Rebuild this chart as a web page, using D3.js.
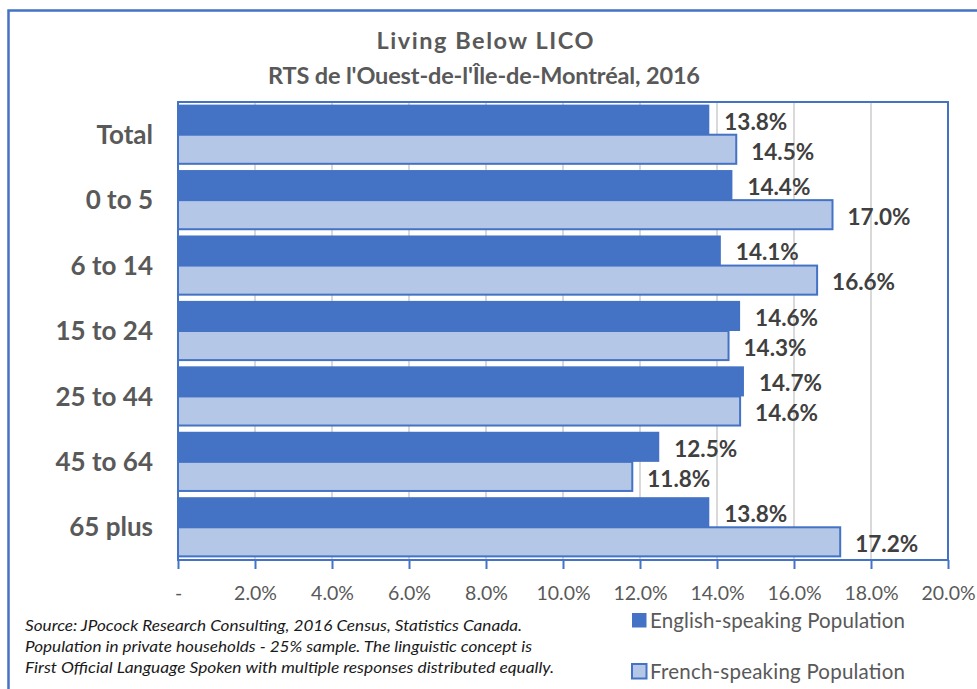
<!DOCTYPE html>
<html lang="en">
<head>
	<meta charset="UTF-8">
	<title>Living Below LICO</title>
	<script src="https://cdn.jsdelivr.net/npm/d3@7"></script>
	<style>
		*{
			margin: 0px;
			box-sizing: border-box;
		}
		html,body{
			width: 977px;
			height: 689px;
			overflow: hidden;
			background: #fff;
		}
		text{
			font-family: Lato, "Open Sans", sans-serif;
		}
		.xAxis path{
			stroke: none;
		}
		.xAxis line{
			stroke: #4472C4;
			stroke-width: 2;
		}
		.xAxis text{
			font-size: 19.5px;
			fill: #595959;
		}
		.grid line{
			stroke: #d9d9d9;
			stroke-width: 2;
		}
	</style>
</head>
<body>
	<svg id="svg"></svg>
	<script>
		var categories = ["Total", "0 to 5", "6 to 14", "15 to 24", "25 to 44", "45 to 64", "65 plus"];
		var english = [13.8, 14.4, 14.1, 14.6, 14.7, 12.5, 13.8];
		var french = [14.5, 17.0, 16.6, 14.3, 14.6, 11.8, 17.2];
		var seriesNames = ["English-speaking Population", "French-speaking Population"];
		var tickValues = [0, 2, 4, 6, 8, 10, 12, 14, 16, 18, 20];
		var sourceLines = [
			"Source: JPocock Research Consulting, 2016 Census, Statistics Canada.",
			"Population in private households - 25% sample. The linguistic concept is",
			"First Official Language Spoken with multiple responses distributed equally."
		];
		var sourceWidths = [497, 507, 529];

		var w = 977, h = 689,
			blue = "#4472C4", light = "#B4C7E7",
			plot = {left: 178, top: 102, right: 948, bottom: 560};

		var svg = d3.select("#svg").attr("width", w).attr("height", h);

		// outer frame (runs off the right and bottom edges)
		svg.append("rect")
			.attr("x", 8.5).attr("y", 10.5)
			.attr("width", 1000).attr("height", 700)
			.attr("fill", "none")
			.attr("stroke", blue)
			.attr("stroke-width", 2.5);

		// title
		svg.append("text")
			.attr("x", 485).attr("y", 49)
			.attr("text-anchor", "middle")
			.attr("font-size", 23.5).attr("font-weight", "bold")
			.attr("fill", "#595959")
			.attr("textLength", 217)
			.text("Living Below LICO");
		svg.append("text")
			.attr("x", 484).attr("y", 84)
			.attr("text-anchor", "middle")
			.attr("font-size", 23.5).attr("font-weight", "bold")
			.attr("fill", "#595959")
			.attr("textLength", 432)
			.text("RTS de l'Ouest-de-l'Île-de-Montréal, 2016");

		var x = d3.scaleLinear().domain([0, 20]).range([plot.left, plot.right]);
		var y0 = d3.scaleBand().domain(categories)
			.range([plot.top, plot.bottom])
			.paddingInner(0.08).paddingOuter(0.04);
		var y1 = d3.scaleBand().domain(["en", "fr"]).range([0, y0.bandwidth()]);

		// gridlines
		svg.append("g").attr("class", "grid")
			.selectAll("line")
			.data(tickValues.slice(1, -1))
			.enter().append("line")
			.attr("x1", function(d) { return x(d); })
			.attr("x2", function(d) { return x(d); })
			.attr("y1", plot.top).attr("y2", plot.bottom);

		// bars
		var rows = categories.map(function(c, i) {
			return {cat: c, en: english[i], fr: french[i]};
		});
		var groups = svg.append("g").selectAll("g")
			.data(rows)
			.enter().append("g")
			.attr("transform", function(d) { return "translate(0," + y0(d.cat) + ")"; });

		groups.append("rect")
			.attr("x", x(0))
			.attr("y", y1("en"))
			.attr("width", function(d) { return x(d.en) - x(0); })
			.attr("height", y1.bandwidth())
			.attr("fill", blue);
		groups.append("rect")
			.attr("x", x(0))
			.attr("y", y1("fr"))
			.attr("width", function(d) { return x(d.fr) - x(0); })
			.attr("height", y1.bandwidth() - 1)
			.attr("fill", light)
			.attr("stroke", blue)
			.attr("stroke-width", 2);

		groups.append("text")
			.attr("x", function(d) { return x(d.en) + 15; })
			.attr("y", y1("en") + y1.bandwidth() / 2 + 2)
			.attr("dy", "0.35em")
			.attr("font-size", 22.5).attr("font-weight", "bold")
			.attr("fill", "#404040")
			.text(function(d) { return d.en.toFixed(1) + "%"; });
		groups.append("text")
			.attr("x", function(d) { return x(d.fr) + 15; })
			.attr("y", y1("fr") + y1.bandwidth() / 2 + 2)
			.attr("dy", "0.35em")
			.attr("font-size", 22.5).attr("font-weight", "bold")
			.attr("fill", "#404040")
			.text(function(d) { return d.fr.toFixed(1) + "%"; });

		// category labels
		svg.append("g").selectAll("text")
			.data(categories)
			.enter().append("text")
			.attr("x", 153)
			.attr("y", function(d) { return y0(d) + y0.bandwidth() / 2; })
			.attr("dy", "0.35em")
			.attr("text-anchor", "end")
			.attr("font-size", 26).attr("font-weight", "bold")
			.attr("fill", "#595959")
			.text(function(d) { return d; });

		// plot border
		svg.append("rect")
			.attr("x", plot.left).attr("y", plot.top)
			.attr("width", plot.right - plot.left)
			.attr("height", plot.bottom - plot.top)
			.attr("fill", "none")
			.attr("stroke", blue)
			.attr("stroke-width", 2);

		// x axis
		svg.append("g").attr("class", "xAxis")
			.attr("transform", "translate(0," + plot.bottom + ")")
			.call(d3.axisBottom(x)
				.tickValues(tickValues)
				.tickSize(9)
				.tickPadding(17)
				.tickFormat(function(d) { return d === 0 ? "-" : d.toFixed(1) + "%"; }));

		// source note
		svg.append("g").selectAll("text")
			.data(sourceLines)
			.enter().append("text")
			.attr("x", 25)
			.attr("y", function(d, i) { return 631 + i * 21; })
			.attr("font-size", 15).attr("font-style", "italic")
			.attr("fill", "#1a1a1a")
			.attr("textLength", function(d, i) { return sourceWidths[i]; })
			.attr("lengthAdjust", "spacingAndGlyphs")
			.text(function(d) { return d; });

		// legend
		var legend = svg.append("g").selectAll("g")
			.data(seriesNames)
			.enter().append("g")
			.attr("transform", function(d, i) { return "translate(632," + (613 + i * 51) + ")"; });
		legend.append("rect")
			.attr("width", 14.5).attr("height", 14.5)
			.attr("fill", function(d, i) { return i === 0 ? blue : light; })
			.attr("stroke", blue)
			.attr("stroke-width", function(d, i) { return i === 0 ? 0 : 2; });
		legend.append("text")
			.attr("x", 18).attr("y", 14.5)
			.attr("font-size", 20.5)
			.attr("fill", "#595959")
			.attr("textLength", 255)
			.text(function(d) { return d; });
	</script>
</body>
</html>
